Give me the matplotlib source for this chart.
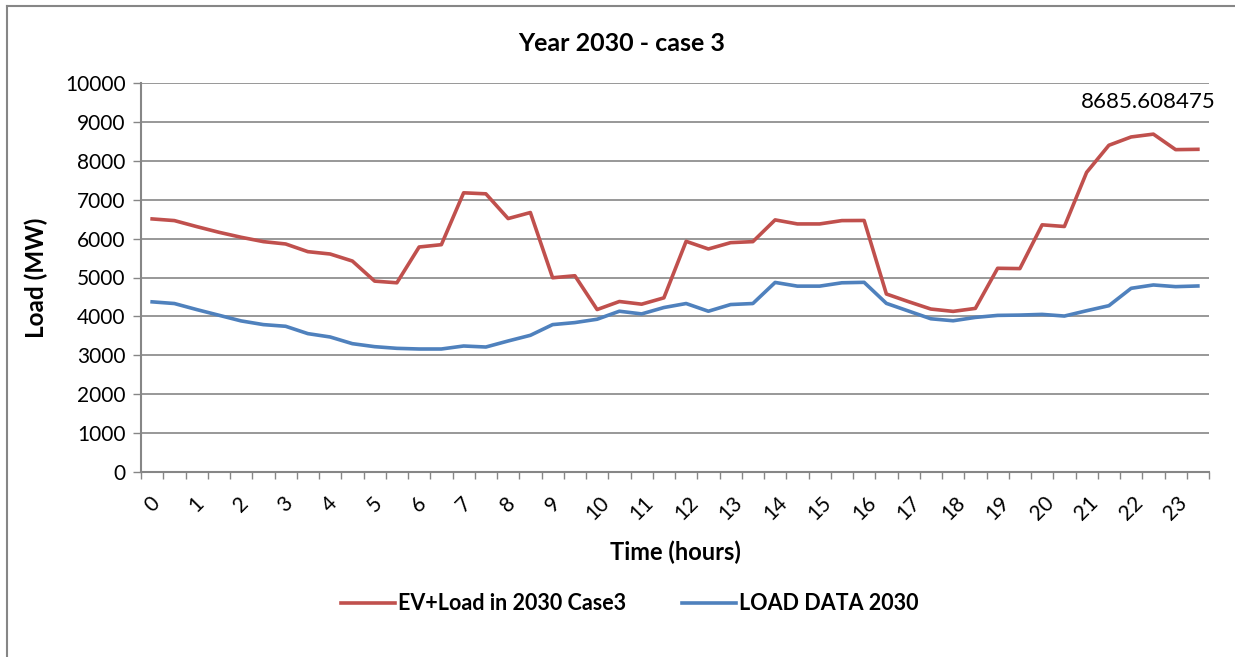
import numpy as np
import matplotlib
matplotlib.use("Agg")
import matplotlib.pyplot as plt
from matplotlib.lines import Line2D
from matplotlib.ticker import FixedLocator, NullFormatter

plt.rcParams["font.family"] = ["Lato", "DejaVu Sans"]

# half-hourly samples over one day
hour_labels = [str(h) for h in range(24)]

ev_load = [6506, 6463, 6309, 6163, 6034, 5922, 5862, 5664, 5604, 5423, 4907, 4864,
           5784, 5844, 7177, 7151, 6515, 6670, 4993, 5045, 4176, 4383, 4314, 4477,
           5930, 5733, 5896, 5922, 6481, 6377, 6377, 6463, 6466, 4576, 4378, 4189,
           4129, 4206, 5237, 5229, 6354, 6311, 7703, 8399, 8613, 8685.608475, 8287, 8295]

base_load = [4374, 4331, 4176, 4030, 3884, 3789, 3746, 3557, 3471, 3299, 3222, 3179,
             3162, 3162, 3239, 3213, 3368, 3514, 3789, 3841, 3927, 4133, 4064, 4228,
             4331, 4133, 4305, 4331, 4873, 4778, 4778, 4864, 4876, 4335, 4137, 3939,
             3888, 3974, 4026, 4034, 4052, 4009, 4146, 4275, 4722, 4808, 4765, 4782]

RED = "#C0504D"
BLUE = "#4F81BD"
GRID = "#868686"

W, H = 1235, 657
fig = plt.figure(figsize=(W / 100, H / 100), dpi=100)
ax = fig.add_axes([141 / W, 1 - 472 / H, (1209 - 141) / W, (472 - 83) / H])

x = np.arange(len(ev_load))
ax.plot(x, ev_load, color=RED, lw=2.6, label="EV+Load in 2030 Case3", solid_joinstyle="round")
ax.plot(x, base_load, color=BLUE, lw=2.6, label="LOAD DATA 2030", solid_joinstyle="round")

# peak value label
peak = int(np.argmax(ev_load))
ax.annotate(f"{ev_load[peak]:.6f}", (x[peak], ev_load[peak]), xytext=(-4, 16),
            textcoords="offset points", ha="center", va="bottom", fontsize=16)

ax.set_xlim(-0.5, len(x) - 0.5)
ax.set_ylim(0, 10000)
ax.set_yticks(np.arange(0, 10001, 1000))
ax.tick_params(axis="y", labelsize=15, length=6, width=1, color=GRID, pad=5)
ax.yaxis.grid(True, color=GRID, lw=1.2)
ax.set_axisbelow(True)

# tick marks between categories, labels on every other sample
ax.xaxis.set_major_locator(FixedLocator(np.arange(-0.5, len(x), 1.0)))
ax.xaxis.set_major_formatter(NullFormatter())
ax.xaxis.set_minor_locator(FixedLocator(x[::2]))
ax.set_xticklabels(hour_labels, minor=True, rotation=45, ha="center", va="top", fontsize=15)
ax.tick_params(axis="x", which="major", length=5, width=1, color=GRID)
ax.tick_params(axis="x", which="minor", length=0, pad=15)

for side in ("top", "right"):
    ax.spines[side].set_visible(False)
for side in ("left", "bottom"):
    ax.spines[side].set_color(GRID)
    ax.spines[side].set_linewidth(1.5)

# title is centred on the whole chart area rather than the plot
ax.set_title("Year 2030 - case 3", fontsize=18, fontweight="bold", pad=23,
             x=(622 - 141) / (1209 - 141))
ax.set_xlabel("Time (hours)", fontsize=17, fontweight="bold", labelpad=12)
ax.set_ylabel("Load (MW)", fontsize=17.5, fontweight="bold", labelpad=12)

fig.legend(loc="center", bbox_to_anchor=(630 / W, 1 - 604 / H), ncol=2, frameon=False,
           prop={"weight": "bold", "size": 15.5}, handlelength=2.5,
           handletextpad=0.15, columnspacing=2.6)

# chart area border
fig.add_artist(Line2D([7 / W, 7 / W], [0, 1 - 6 / H], color=GRID, lw=1.5))
fig.add_artist(Line2D([7 / W, 1], [1 - 6 / H, 1 - 6 / H], color=GRID, lw=1.5))

fig.savefig("out.png", dpi=100)
